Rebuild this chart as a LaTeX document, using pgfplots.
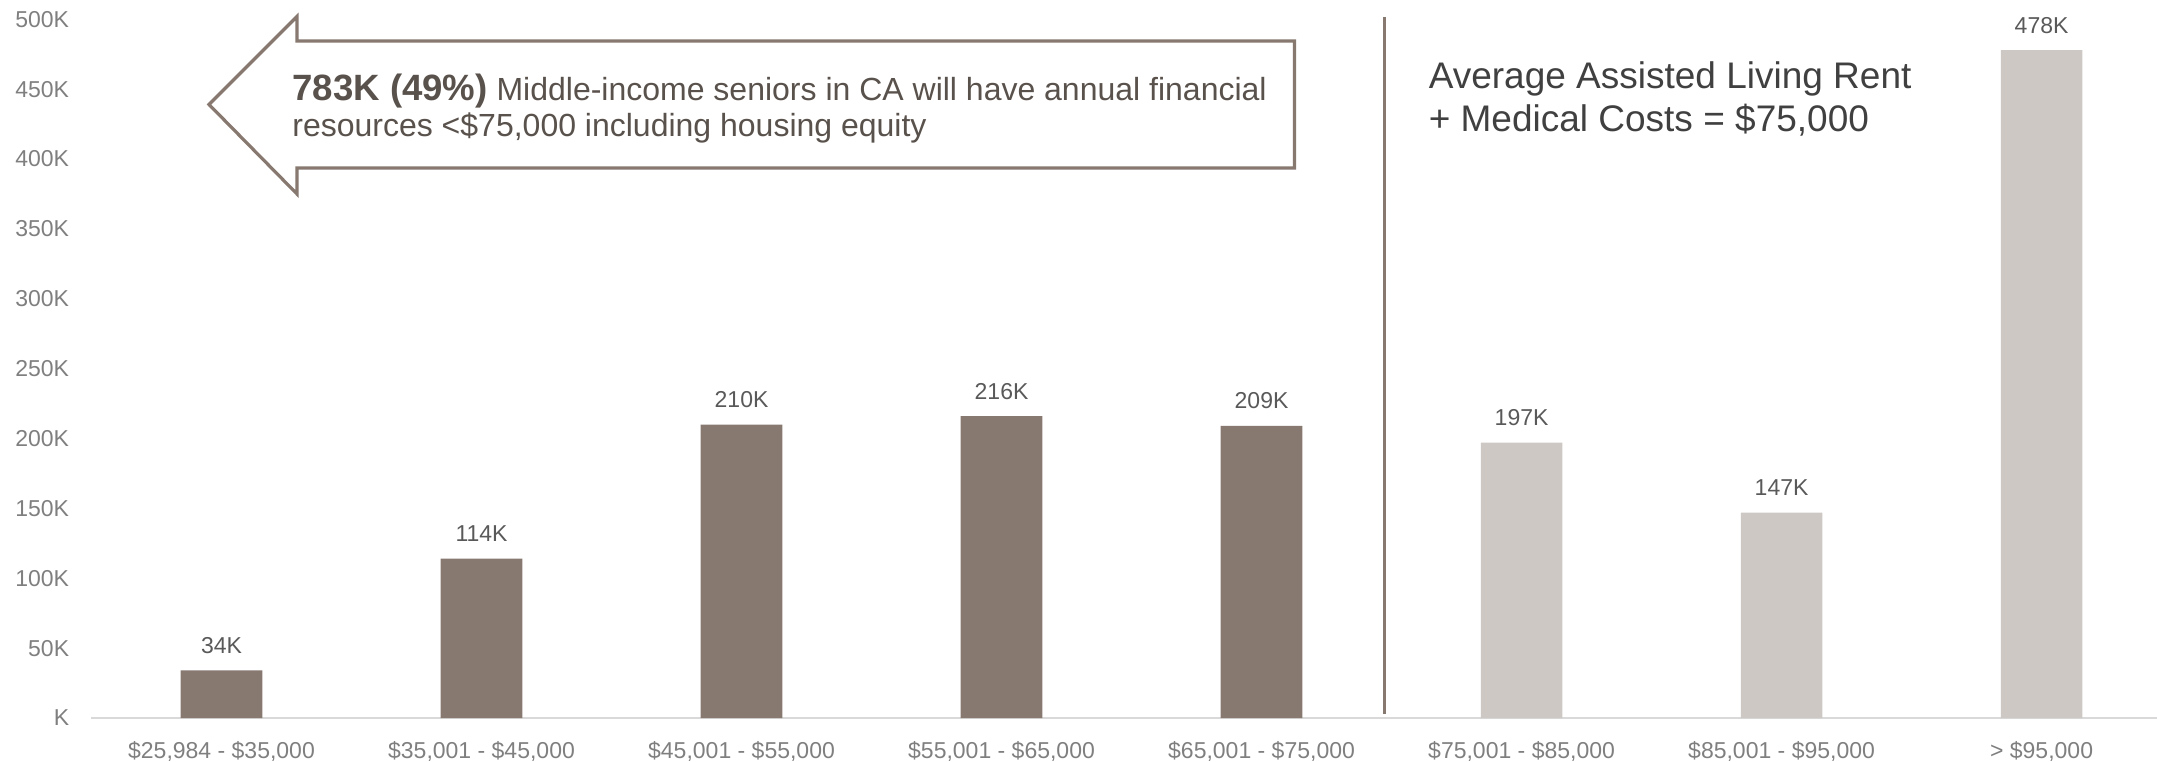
\documentclass[border=0pt]{standalone}
\usepackage{pgfplots}
\pgfplotsset{compat=1.18}
\usepackage{fontspec}
\setmainfont{Liberation Sans}
\definecolor{darkbar}{RGB}{135,120,112}
\definecolor{lightbar}{RGB}{205,200,196}
\definecolor{ticktext}{RGB}{127,127,127}
\definecolor{labeltext}{RGB}{89,89,89}
\definecolor{arrowtext}{RGB}{89,81,75}
\definecolor{righttext}{RGB}{64,64,64}
\definecolor{axisgrey}{RGB}{217,217,217}
\begin{document}
\begin{tikzpicture}
\useasboundingbox (0,0) rectangle (1078.5pt,380.5pt);
\begin{axis}[
  at={(45.75pt,21.5pt)}, anchor=south west,
  width=1032.75pt, height=349.35pt, scale only axis,
  xmin=-0.5, xmax=7.444, ymin=0, ymax=500,
  clip=false,
  axis line style={draw=none},
  major tick length=0pt,
  tick style={draw=none},
  xtick={0,1,2,3,4,5,6,7},
  xticklabels={{\$25,984 - \$35,000},{\$35,001 - \$45,000},{\$45,001 - \$55,000},{\$55,001 - \$65,000},{\$65,001 - \$75,000},{\$75,001 - \$85,000},{\$85,001 - \$95,000},{> \$95,000}},
  ytick={0,50,100,150,200,250,300,350,400,450,500},
  yticklabels={K,50K,100K,150K,200K,250K,300K,350K,400K,450K,500K},
  yticklabel style={font=\fontsize{11.5}{13}\selectfont, text=ticktext, anchor=east, inner sep=0pt, xshift=-11pt},
  xticklabel style={font=\fontsize{11.5}{13}\selectfont, text=ticktext, anchor=base, inner sep=0pt, yshift=-20pt},
  /pgf/number format/assume math mode=true,
  point meta=y,
  nodes near coords={\pgfmathprintnumber{\pgfplotspointmeta}K},
  every node near coord/.append style={font=\fontsize{11.5}{13}\selectfont, text=labeltext, anchor=base, inner sep=0pt, yshift=8.5pt},
]
\draw[axisgrey, line width=1pt] (axis cs:-0.5,0) -- (axis cs:7.444,0);
\addplot[ybar, bar width=0.314, bar shift=0pt, fill=darkbar, draw=none]
  coordinates {(0,34) (1,114) (2,210) (3,216) (4,209)};
\addplot[ybar, bar width=0.314, bar shift=0pt, fill=lightbar, draw=none]
  coordinates {(5,197) (6,147) (7,478)};
\end{axis}
% arrow call-out
\draw[darkbar, line width=1.6pt, fill=white, line join=miter]
  (104.5pt,328.25pt) -- (148.5pt,372.25pt) -- (148.5pt,360pt) -- (647.25pt,360pt)
  -- (647.25pt,296.5pt) -- (148.5pt,296.5pt) -- (148.5pt,283.5pt) -- cycle;
\node[anchor=base west, inner sep=0pt, text=arrowtext] at (146pt,330.4pt)
  {\fontsize{18.3}{21}\selectfont\bfseries 783K (49\%)\fontsize{16}{19}\selectfont\mdseries\ Middle-income seniors in CA will have annual financial};
\node[anchor=base west, inner sep=0pt, text=arrowtext] at (146pt,312pt)
  {\fontsize{16}{19}\selectfont resources <\$75,000 including housing equity};
% separator line
\draw[darkbar, line width=1.5pt] (692pt,23.5pt) -- (692pt,372.15pt);
% right text
\node[anchor=base west, inner sep=0pt, text=righttext] at (714.2pt,336.35pt)
  {\fontsize{18.5}{22}\selectfont Average Assisted Living Rent};
\node[anchor=base west, inner sep=0pt, text=righttext] at (714.2pt,314.65pt)
  {\fontsize{18.5}{22}\selectfont + Medical Costs = \$75,000};
\end{tikzpicture}
\end{document}
